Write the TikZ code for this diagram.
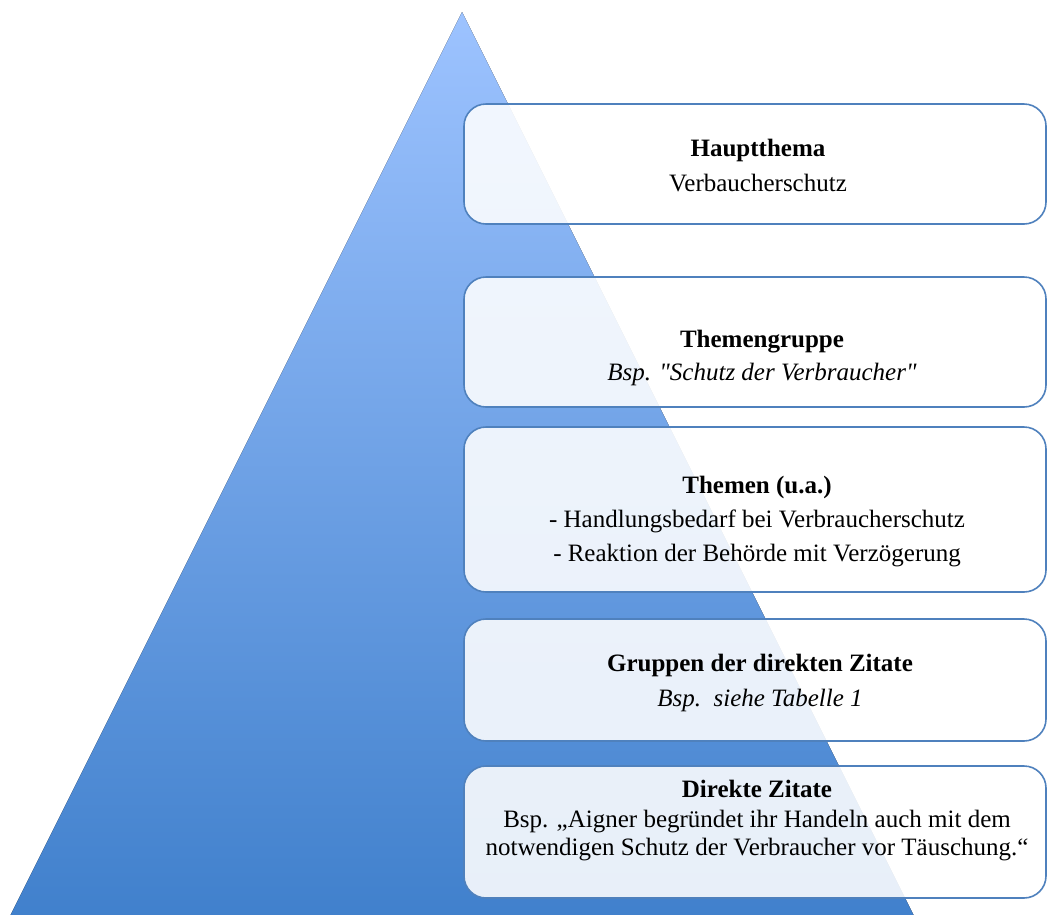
\documentclass[tikz,border=0pt]{standalone}
\usepackage{fontspec}
\setmainfont{Liberation Serif}[Ligatures=TeXOff]
\definecolor{pyrtop}{RGB}{157,195,255}
\definecolor{pyrbot}{RGB}{64,128,204}
\definecolor{boxline}{RGB}{79,129,189}
\tikzset{
  lvlbox/.style={draw=boxline, line width=1.6pt, rounded corners=22pt, fill=white, fill opacity=0.88},
  lvltext/.style={align=center, inner sep=0pt, font=\fontsize{25}{28}\selectfont, text=black}
}
\begin{document}
\begin{tikzpicture}[x=1pt,y=-1pt]
\useasboundingbox (0,0) rectangle (1047,914);
\clip (0,0) rectangle (1047,914);
% pyramid
\coordinate (apex) at (462,12);
\coordinate (bl) at (8,920);
\coordinate (br) at (916,920);
\fill[top color=pyrtop, bottom color=pyrbot] (apex) -- (br) -- (bl) -- cycle;
% boxes
\draw[lvlbox] (464,104) rectangle (1046,224);
\draw[lvlbox] (464,277) rectangle (1046,407);
\draw[lvlbox] (464,427) rectangle (1046,592);
\draw[lvlbox] (464,619) rectangle (1046,741);
\draw[lvlbox] (464,766) rectangle (1046,898);
% texts
\node[lvltext] (t1) at (758,166) {\textbf{Hauptthema}\\[7pt]Verbaucherschutz};
\node[lvltext] (t2) at (762,358) {\textbf{Themengruppe}\\[5pt]\textit{Bsp. "Schutz der Verbraucher"}};
\node[lvltext] (t3) at (757,522) {\textbf{Themen (u.a.)}\\[6pt]- Handlungsbedarf bei Verbraucherschutz\\[6pt]- Reaktion der Behörde mit Verzögerung};
\node[lvltext] (t4) at (760,683) {\textbf{Gruppen der direkten Zitate}\\[7pt]\textit{Bsp.\ \ siehe Tabelle 1}};
\node[lvltext] (t5) at (757,821) {\textbf{Direkte Zitate}\\[2pt]Bsp. „Aigner begründet ihr Handeln auch mit dem\\notwendigen Schutz der Verbraucher vor Täuschung.“};
\end{tikzpicture}
\end{document}
